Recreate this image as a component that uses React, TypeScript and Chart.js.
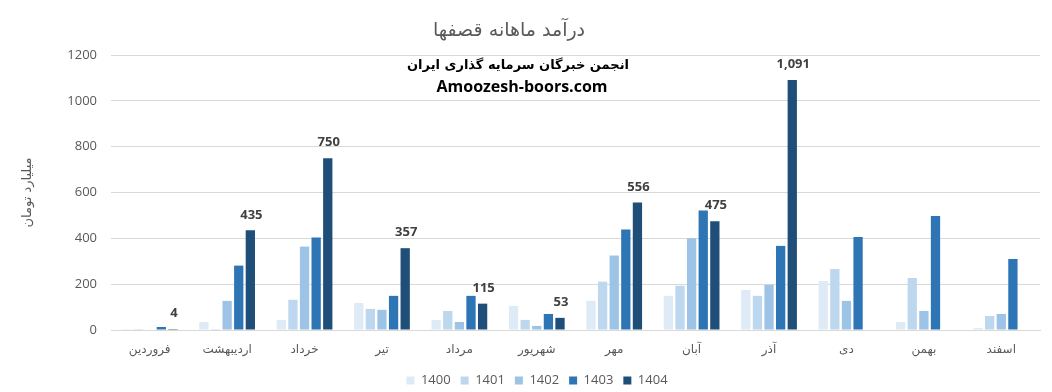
import React, { useEffect, useRef } from "react";
import { Chart, registerables } from "chart.js";

Chart.register(...registerables);

const months = ["فروردین", "اردیبهشت", "خرداد", "تیر", "مرداد", "شهریور", "مهر", "آبان", "آذر", "دی", "بهمن", "اسفند"];
const s1400 = [4, 35, 44, 118, 44, 105, 127, 149, 175, 214, 35, 9];
const s1401 = [4, 4, 132, 92, 83, 44, 211, 193, 149, 266, 227, 61];
const s1402 = [0, 127, 364, 88, 35, 18, 325, 400, 197, 127, 83, 70];
const s1403 = [13, 281, 404, 149, 149, 70, 439, 522, 367, 406, 498, 310];
const s1404 = [4, 435, 750, 357, 115, 53, 556, 475, 1091, null, null, null];
const seriesNames = ["1400", "1401", "1402", "1403", "1404"];
const seriesColors = ["#DEEBF7", "#BDD7EE", "#9DC3E6", "#2E75B6", "#1F4E79"];
const yTicks = [0, 200, 400, 600, 800, 1000, 1200];
const chartTitle = "درآمد ماهانه قصفها";
const yTitle = "میلیارد تومان";
const watermark1 = "انجمن خبرگان سرمایه گذاری ایران";
const watermark2 = "Amoozesh-boors.com";
const labeledSeries = 4;

const NUM_FONT = "'Open Sans', 'DejaVu Sans', sans-serif";
const FA_FONT = "'DejaVu Sans', sans-serif";

const textPlugin = {
  id: "texts",
  afterDraw(chart: any) {
    const ctx = chart.ctx;
    const cx = chart.width / 2;
    ctx.save();
    ctx.textAlign = "center";
    ctx.textBaseline = "middle";
    ctx.fillStyle = "#595959";
    ctx.font = "19px " + FA_FONT;
    ctx.fillText(chartTitle, cx - 17, 31);
    ctx.fillStyle = "#000000";
    ctx.font = "bold 13px " + FA_FONT;
    ctx.fillText(watermark1, cx - 8, 66);
    ctx.font = "bold 16px " + NUM_FONT;
    ctx.fillText(watermark2, cx - 4, 87);
    ctx.restore();
  },
};

const legendShiftPlugin = {
  id: "legendShift",
  afterLayout(chart: any) {
    const lg = chart.legend;
    if (lg) {
      lg.left += 13;
      lg.right += 13;
    }
  },
};

const labelPlugin = {
  id: "barLabels",
  afterDatasetsDraw(chart: any) {
    const ctx = chart.ctx;
    const meta = chart.getDatasetMeta(labeledSeries);
    const data = chart.data.datasets[labeledSeries].data;
    ctx.save();
    ctx.font = "bold 13px " + NUM_FONT;
    ctx.fillStyle = "#404040";
    ctx.textAlign = "center";
    ctx.textBaseline = "bottom";
    meta.data.forEach((el: any, i: number) => {
      const v = data[i];
      if (v === null || v === undefined) return;
      ctx.fillText(Number(v).toLocaleString("en-US"), el.x + 1, el.y - 9);
    });
    ctx.restore();
  },
};

export default function App() {
  const ref = useRef<HTMLCanvasElement>(null);
  useEffect(() => {
    if (!ref.current) return;
    const all = [s1400, s1401, s1402, s1403, s1404];
    const chart = new Chart(ref.current, {
      type: "bar",
      data: {
        labels: months,
        datasets: all.map((d, i) => ({
          label: seriesNames[i],
          data: d,
          backgroundColor: seriesColors[i],
          borderWidth: 0,
          categoryPercentage: 0.75,
          barPercentage: 0.8,
        })),
      },
      options: {
        responsive: false,
        animation: false,
        layout: { padding: { left: 8, right: 12, top: 55, bottom: -5 } },
        plugins: {
          title: { display: false },
          tooltip: { enabled: false },
          legend: {
            position: "bottom",
            labels: {
              boxWidth: 8,
              boxHeight: 8,
              padding: 10,
              color: "#595959",
              font: { size: 13, family: NUM_FONT },
            },
          },
        },
        scales: {
          x: {
            grid: { display: false },
            border: { display: true, color: "#D9D9D9" },
            ticks: {
              color: "#595959",
              font: { size: 12, family: FA_FONT },
              padding: 5,
              maxRotation: 0,
            },
            afterFit: (s: any) => {
              s.height = 34;
            },
          },
          y: {
            min: 0,
            max: 1200,
            afterBuildTicks: (s: any) => {
              s.ticks = yTicks.map((v) => ({ value: v }));
            },
            grid: { color: "#D9D9D9", drawTicks: false },
            border: { display: false },
            ticks: {
              color: "#595959",
              font: { size: 13, family: NUM_FONT },
              padding: 14,
              callback: (v: any) => String(v),
            },
            title: {
              display: true,
              text: yTitle,
              color: "#595959",
              font: { size: 13, family: FA_FONT },
              padding: { top: 12, bottom: 0 },
            },
            afterFit: (s: any) => {
              s.width = 103;
            },
          },
        },
      },
      plugins: [legendShiftPlugin, labelPlugin, textPlugin],
    });
    return () => chart.destroy();
  }, []);
  return (
    <div style={{ position: "fixed", left: 0, top: 0, width: 1052, height: 392, background: "#fff" }}>
      <canvas ref={ref} width={1052} height={392} />
    </div>
  );
}
